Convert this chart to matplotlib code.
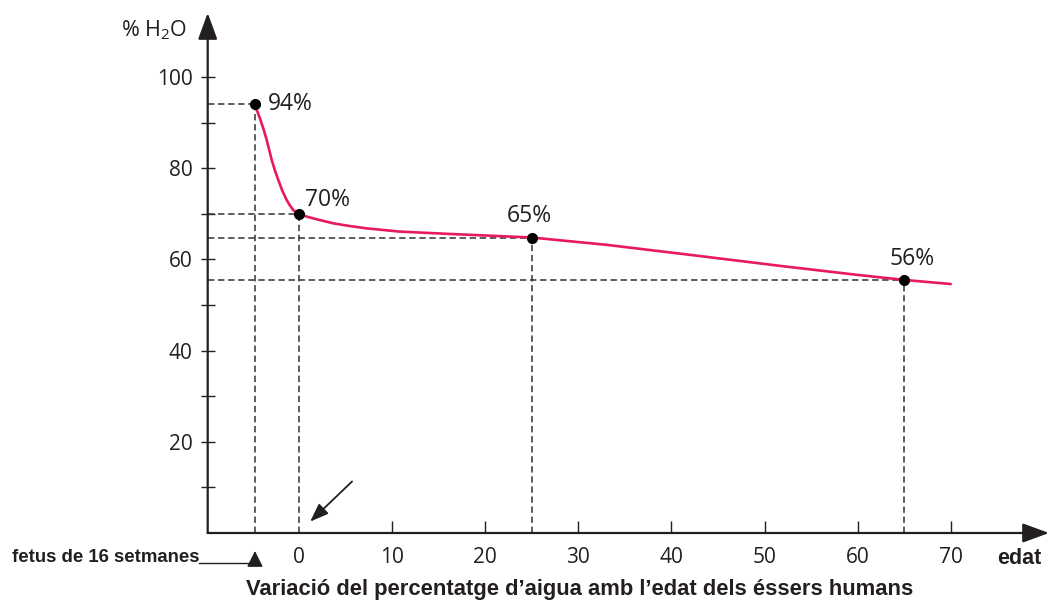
import matplotlib
matplotlib.use("Agg")
import matplotlib.pyplot as plt
from matplotlib.lines import Line2D

# ---- data ----
curve_age = [-4.73, -4.5, -4.19, -3.8, -3.47, -3.2, -2.93, -2.6, -2.22, -1.8, -1.32, -1.0, -0.61, -0.3, 0,
             0.8, 1.9, 3.7, 5.5, 7.3, 10.8, 16, 25, 33, 42, 52, 60, 65, 70]
curve_water = [94.0, 92.6, 90.9, 88.5, 86.2, 84.0, 81.8, 79.6, 77.4, 75.1, 73.0, 71.9, 70.8, 70.3, 70.0,
               69.4, 68.8, 67.9, 67.3, 66.8, 66.1, 65.6, 64.8, 63.2, 61.0, 58.5, 56.6, 55.5, 54.6]

point_age = [-4.73, 0, 25, 65]
point_water = [94, 70, 64.8, 55.5]
point_labels = ["94%", "70%", "65%", "56%"]

x_ticks = [0, 10, 20, 30, 40, 50, 60, 70]
y_ticks = [20, 40, 60, 80, 100]
y_minor = [10, 30, 50, 70, 90]

title = "Variació del percentatge d\u2019aigua amb l\u2019edat dels éssers humans"
x_name = "edat"
y_name = "% H$_\\mathregular{2}$O"
fetus_note = "fetus de 16 setmanes"

# ---- style ----
plt.rcParams['mathtext.fontset'] = 'custom'
plt.rcParams['mathtext.rm'] = 'Open Sans'
plt.rcParams['mathtext.it'] = 'Open Sans'
INK = '#231f20'
CURVE = '#e8195f'
W, H = 1050, 610

fig = plt.figure(figsize=(W / 100, H / 100), dpi=100)
left_px, right_px, bottom_px, top_px = 207.7, 1049, 77, 597
ax = fig.add_axes([left_px / W, bottom_px / H, (right_px - left_px) / W, (top_px - bottom_px) / H])
ax.set_facecolor('none')

xs = 9.31
ys = 4.56
ax.set_xlim((left_px - 299) / xs, (right_px - 299) / xs)
ax.set_ylim(0, (top_px - bottom_px) / ys)
xmin = ax.get_xlim()[0]

for s in ax.spines.values():
    s.set_visible(False)

# axes with arrows
for tip in [(1, 0), (0, 1)]:
    ax.annotate('', xy=tip, xytext=(0, 0), xycoords='axes fraction',
                arrowprops=dict(arrowstyle='-|>,head_length=0.9,head_width=0.33', color=INK, lw=1.6,
                                mutation_scale=18, shrinkA=0, shrinkB=0), annotation_clip=False)

ax.set_xticks(x_ticks)
ax.set_xticklabels([str(v) for v in x_ticks])
ax.set_yticks(y_ticks)
ax.set_yticklabels([str(v) for v in y_ticks])
ax.set_yticks(y_minor, minor=True)
ax.tick_params(axis='x', which='major', direction='in', length=8.4, width=1.0, color=INK,
               pad=10, labelsize=15, labelcolor=INK)
ax.tick_params(axis='y', which='both', direction='inout', length=9.5, width=1.0, color=INK,
               pad=6, labelsize=15, labelcolor=INK)
for lab in ax.get_xticklabels() + ax.get_yticklabels():
    lab.set_fontfamily('Open Sans')
ax.xaxis.get_major_ticks()[0].tick1line.set_visible(False)

# dashed guide lines
DASH = (0, (4, 2.3))
for a, w in zip(point_age, point_water):
    ax.plot([xmin, a], [w, w], color='#3a3a3a', lw=1.15, ls=DASH, zorder=2)
    ax.plot([a, a], [0, w], color='#3a3a3a', lw=1.15, ls=DASH, zorder=2)

# curve
ax.plot(curve_age, curve_water, color=CURVE, lw=1.9, zorder=3, solid_capstyle='round',
        solid_joinstyle='round')
ax.plot(point_age, point_water, 'o', color='black', ms=7, zorder=4)

offsets = [(13, 0, 'left', 'center'), (6, 14, 'left', 'center'),
           (-2, 22, 'center', 'center'), (8, 21, 'center', 'center')]
for a, w, t, (dx, dy, ha, va) in zip(point_age, point_water, point_labels, offsets):
    ax.annotate(t, (a, w), xytext=(dx, dy), textcoords='offset pixels', ha=ha, va=va,
                fontsize=16.5, family='Open Sans', color=INK)

# arrow pointing at birth
ax.annotate('', xy=(1.2, 2.5), xytext=(5.7, 11.3),
            arrowprops=dict(arrowstyle='-|>,head_length=0.8,head_width=0.3', color=INK, lw=1.3,
                            mutation_scale=14, shrinkA=0, shrinkB=0))

# axis names
fig.text(121 / W, 1 - 30 / H, y_name, ha='left', va='center', fontsize=15.5,
         family='Open Sans', color=INK)
fig.text(997 / W, 1 - 558 / H, x_name, ha='left', va='center', fontsize=15.5,
         family='Liberation Sans', weight='bold', color=INK)

# fetus note
fig.text(199 / W, 1 - 557 / H, fetus_note, ha='right', va='center', fontsize=13.4,
         family='Liberation Sans', weight='bold', color=INK)
fig.add_artist(Line2D([199 / W, 255 / W], [1 - 563 / H, 1 - 563 / H], color=INK, lw=1.0))
ax.annotate('', xy=(point_age[0], H - 551), xytext=(point_age[0], H - 563),
            xycoords=('data', 'figure pixels'), textcoords=('data', 'figure pixels'),
            arrowprops=dict(arrowstyle='-|>,head_length=0.7,head_width=0.35', color=INK, lw=1.0,
                            mutation_scale=14, shrinkA=0, shrinkB=0), annotation_clip=False)

# title
fig.text(580 / W, 1 - 590 / H, title, ha='center', va='center', fontsize=15.8,
         family='Liberation Sans', weight='bold', color=INK)

fig.savefig('out.png', dpi=100)
